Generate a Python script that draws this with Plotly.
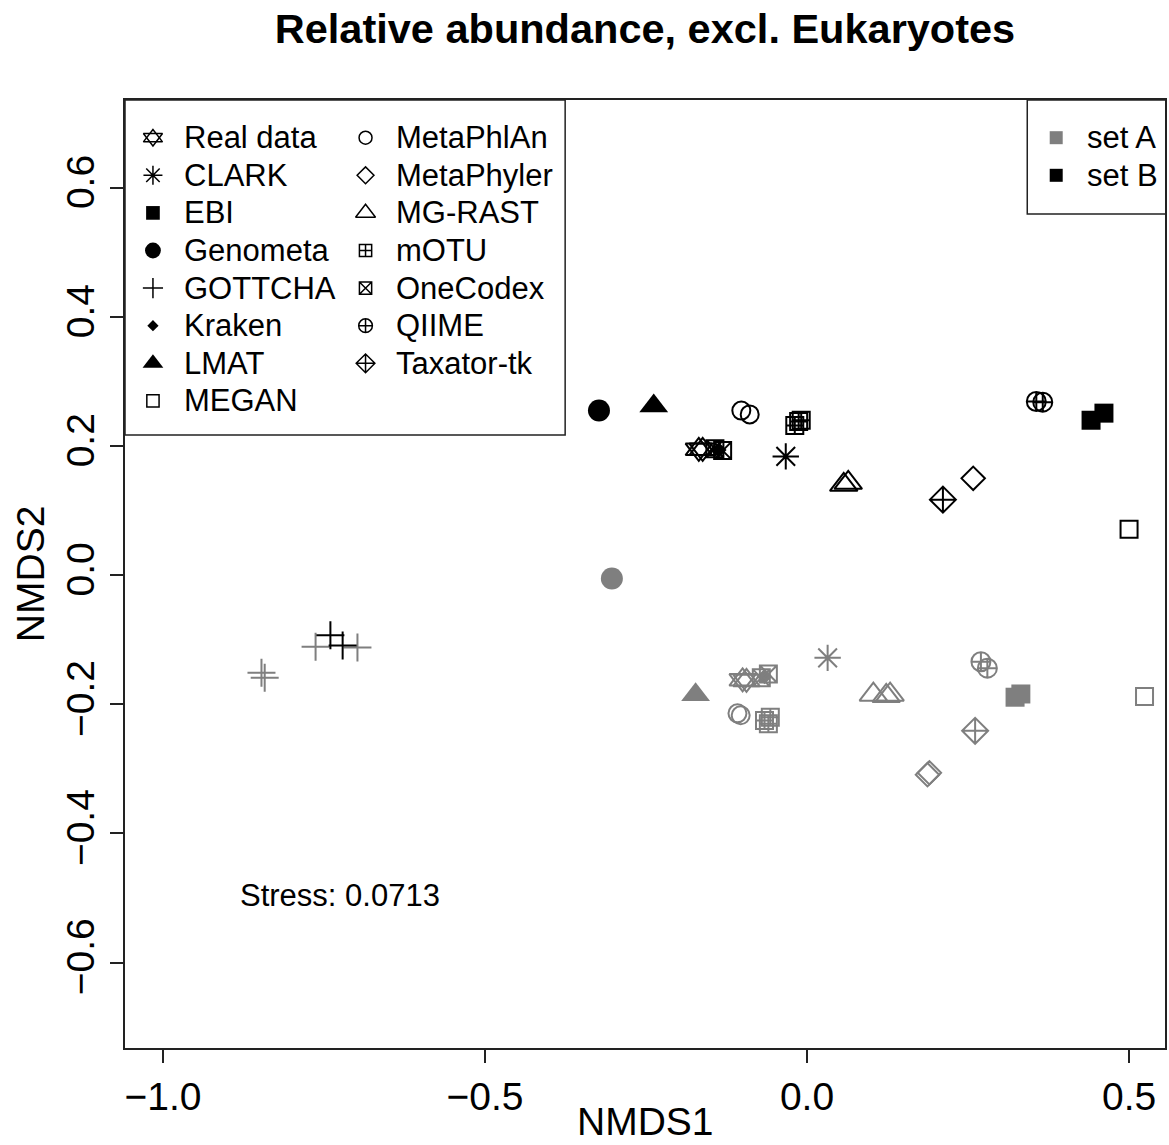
import plotly.graph_objects as go

# ---------------- data ----------------
methods = ["Real data", "CLARK", "EBI", "Genometa", "GOTTCHA", "Kraken", "LMAT", "MEGAN",
           "MetaPhlAn", "MetaPhyler", "MG-RAST", "mOTU", "OneCodex", "QIIME", "Taxator-tk"]

# set A (grey)
a_x = [
    [-0.100, -0.094],
    [0.032],
    [0.323, 0.332],
    [-0.303],
    [-0.847, -0.842, -0.763, -0.698],
    [-0.066],
    [-0.173],
    [0.524],
    [-0.108, -0.103],
    [0.187, 0.190],
    [0.103, 0.123, 0.129],
    [-0.066, -0.057, -0.060],
    [-0.071, -0.060],
    [0.270, 0.280],
    [0.261],
]
a_y = [
    [-0.162, -0.163],
    [-0.128],
    [-0.189, -0.184],
    [-0.005],
    [-0.151, -0.159, -0.111, -0.112],
    [-0.157],
    [-0.185],
    [-0.188],
    [-0.214, -0.217],
    [-0.309, -0.306],
    [-0.185, -0.187, -0.185],
    [-0.225, -0.220, -0.230],
    [-0.159, -0.153],
    [-0.134, -0.144],
    [-0.241],
]
# set B (black)
b_x = [
    [-0.168, -0.162],
    [-0.033],
    [0.441, 0.461],
    [-0.323],
    [-0.740, -0.721],
    [-0.137],
    [-0.238],
    [0.500],
    [-0.102, -0.089],
    [0.258],
    [0.057, 0.064],
    [-0.019, -0.013, -0.009],
    [-0.143, -0.131],
    [0.356, 0.366],
    [0.211],
]
b_y = [
    [0.195, 0.195],
    [0.184],
    [0.240, 0.251],
    [0.255],
    [-0.093, -0.109],
    [0.194],
    [0.262],
    [0.071],
    [0.255, 0.249],
    [0.150],
    [0.140, 0.143],
    [0.232, 0.238, 0.240],
    [0.196, 0.193],
    [0.269, 0.268],
    [0.117],
]
set_names = ["set A", "set B"]
stress_text = "Stress: 0.0713"
x_ticks = [-1.0, -0.5, 0.0, 0.5]
y_ticks = [-0.6, -0.4, -0.2, 0.0, 0.2, 0.4, 0.6]

# ---------------- styles ----------------
GREY = "#7f7f7f"
BLACK = "#000000"
set_colors = [GREY, BLACK]
FONT = "Liberation Sans, Arial, Helvetica, sans-serif"

# symbol(s), plot size, line width
style = {
    "Real data": (["triangle-up-open", "triangle-down-open"], 23, 2),
    "CLARK": (["asterisk-open"], 22, 2),
    "EBI": (["square"], 19, 0),
    "Genometa": (["circle"], 22, 0),
    "GOTTCHA": (["cross-thin-open"], 20, 2),
    "Kraken": (["diamond"], 12, 0),
    "LMAT": (["triangle-up"], 25, 0),
    "MEGAN": (["square-open"], 17, 2),
    "MetaPhlAn": (["circle-open"], 18, 2),
    "MetaPhyler": (["diamond-open"], 18, 2),
    "MG-RAST": (["triangle-up-open"], 24, 2),
    "mOTU": (["square-cross-open"], 17, 2),
    "OneCodex": (["square-x-open"], 17, 2),
    "QIIME": (["circle-cross-open"], 19, 2),
    "Taxator-tk": (["diamond-cross-open"], 20, 2),
}

W, H = 1169, 1145
PL, PR, PT, PB = 125, 1167, 100, 1048

fig = go.Figure()

for sx, sy, col in [(a_x, a_y, GREY), (b_x, b_y, BLACK)]:
    for i, m in enumerate(methods):
        syms, size, lw = style[m]
        for s in syms:
            fig.add_trace(go.Scatter(
                x=sx[i], y=sy[i], mode="markers", showlegend=False, hoverinfo="skip",
                marker=dict(symbol=s, size=size, color=col,
                            line=dict(color=col, width=lw if lw else 0)),
                xaxis="x", yaxis="y"))

# ---------------- custom legends (pixel-like overlay axes) ----------------
row0, dy = 137.7, 37.6
col_sym = [153, 366]
col_txt = [182, 395]
leg_scale = 0.72
for k, m in enumerate(methods):
    c = 0 if k < 8 else 1
    r = k if k < 8 else k - 8
    syms, size, lw = style[m]
    for s in syms:
        fig.add_trace(go.Scatter(
            x=[col_sym[c]], y=[row0 + r * dy], mode="markers", showlegend=False,
            hoverinfo="skip", xaxis="x2", yaxis="y2",
            marker=dict(symbol=s, size=size * leg_scale, color=BLACK,
                        line=dict(color=BLACK, width=1.5 if lw else 0))))
    fig.add_annotation(x=col_txt[c], y=row0 + r * dy, xref="x2", yref="y2", text=m,
                       showarrow=False, xanchor="left", yanchor="middle",
                       font=dict(size=31, color="black", family=FONT))

for k, nm in enumerate(set_names):
    fig.add_trace(go.Scatter(
        x=[1058], y=[row0 + k * dy], mode="markers", showlegend=False, hoverinfo="skip",
        xaxis="x2", yaxis="y2",
        marker=dict(symbol="square", size=13, color=set_colors[k], line=dict(width=0))))
    fig.add_annotation(x=1087, y=row0 + k * dy, xref="x2", yref="y2", text=nm,
                       showarrow=False, xanchor="left", yanchor="middle",
                       font=dict(size=31, color="black", family=FONT))

fig.add_shape(type="rect", xref="x2", yref="y2", x0=PL, x1=566, y0=PT, y1=435,
              line=dict(color="#222", width=1.5))
fig.add_shape(type="rect", xref="x2", yref="y2", x0=1029, x1=PR + 5, y0=PT, y1=214,
              line=dict(color="#222", width=1.5))

fig.add_annotation(x=-0.884, y=-0.496, xref="x", yref="y", text=stress_text,
                   showarrow=False, xanchor="left", yanchor="middle",
                   font=dict(size=31, color="black", family=FONT))

# axis titles
fig.add_annotation(x=0.5, y=-(1121 - PB) / (PB - PT), xref="paper", yref="paper",
                   text="NMDS1", showarrow=False, xanchor="center", yanchor="middle",
                   font=dict(size=39, color="black", family=FONT))
fig.add_annotation(x=-(PL - 30) / (PR - PL), y=0.5, xref="paper", yref="paper",
                   text="NMDS2", showarrow=False, textangle=-90,
                   xanchor="center", yanchor="middle",
                   font=dict(size=39, color="black", family=FONT))

fig.update_layout(
    width=W, height=H,
    margin=dict(l=PL, r=W - PR, t=PT, b=H - PB),
    paper_bgcolor="white", plot_bgcolor="white",
    font=dict(family=FONT, color="black"),
    title=dict(text="<b>Relative abundance, excl. Eukaryotes</b>",
               x=0.5, xref="paper", y=1 - 28 / H, yref="container",
               xanchor="center", yanchor="middle",
               font=dict(size=41.5, color="black", family=FONT)),
    xaxis=dict(range=[-1.0589, 0.5558], tickvals=x_ticks, tickformat=".1f",
               showgrid=False, zeroline=False, showline=True, mirror=True,
               linecolor="#222", linewidth=2, ticks="outside", ticklen=13,
               tickwidth=2, tickcolor="#222",
               tickfont=dict(size=39, color="black", family=FONT)),
    yaxis=dict(range=[-0.7323, 0.7360], tickvals=y_ticks, tickformat=".1f",
               showgrid=False, zeroline=False, showline=True, mirror=True,
               linecolor="#222", linewidth=2, ticks="outside", ticklen=13,
               tickwidth=2, tickcolor="#222", tickangle=-90,
               tickfont=dict(size=39, color="black", family=FONT)),
    xaxis2=dict(range=[PL, PR], overlaying="x", visible=False, fixedrange=True),
    yaxis2=dict(range=[PB, PT], overlaying="y", visible=False, fixedrange=True),
    showlegend=False,
)

fig.write_html(
    "out.html",
    config={"displayModeBar": False},
    post_script="document.body.style.margin='0';document.body.style.overflow='hidden';",
)
